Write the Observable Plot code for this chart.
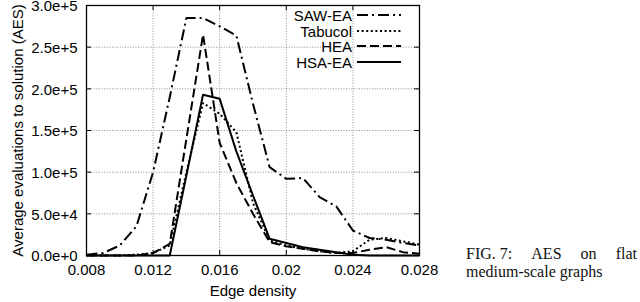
<!DOCTYPE html>
<html><head><meta charset="utf-8">
<script src="https://cdn.jsdelivr.net/npm/d3@7"></script>
<script src="https://cdn.jsdelivr.net/npm/@observablehq/plot@0.6"></script>
<style>
html,body{margin:0;padding:0;background:#fff;}
#wrap{position:relative;width:640px;height:302px;overflow:hidden;background:#fff;}
.leg{position:absolute;font-family:"Liberation Sans",Arial,sans-serif;font-size:15px;color:#000;line-height:15px;}
.legtxt{position:absolute;right:288px;white-space:nowrap;text-align:right;}
.cap{position:absolute;left:466px;width:171px;font-family:"Liberation Serif","Times New Roman",serif;font-size:16px;color:#111;white-space:nowrap;}
.cap1{display:flex;justify-content:space-between;}
</style></head><body><div id="wrap"></div>
<script>
const densities = [0.008,0.009,0.010,0.011,0.012,0.013,0.014,0.015,0.016,0.017,0.018,0.019,0.020,0.021,0.022,0.023,0.024,0.025,0.026,0.027,0.028];
const sawEA   = [1000,3000,12000,35000,100000,190000,285000,285000,275000,264000,182000,106000,92000,93000,70000,59000,30000,21000,19000,15000,12000];
const tabucol = [0,0,0,1000,3000,12000,100000,183000,170000,148000,63000,18000,12000,8000,5000,3000,5000,19000,21000,17000,13000];
const hea     = [0,0,0,0,3000,14000,140000,265000,135000,87000,50000,16000,11000,8000,5000,3000,3000,7000,10000,4000,2000];
const hsaEA   = [0,0,0,0,0,0,96000,193000,188000,125000,72000,20000,15000,10000,7000,4000,1000,0,0,0,0];

const seriesNames = ["SAW-EA","Tabucol","HEA","HSA-EA"];
const seriesValues = [sawEA, tabucol, hea, hsaEA];
const seriesDash = ["11,4,2,4", "2,2.6", "9,4", null];

const xTicks = [0.008,0.012,0.016,0.020,0.024,0.028];
const xTickLabels = ["0.008","0.012","0.016","0.02","0.024","0.028"];
const yTicks = [0,50000,100000,150000,200000,250000,300000];
const yTickLabels = ["0.0e+0","5.0e+4","1.0e+5","1.5e+5","2.0e+5","2.5e+5","3.0e+5"];
const xLabel = "Edge density";
const yLabel = "Average evaluations to solution (AES)";
const captionLine1 = ["FIG. 7:","AES","on","flat"];
const captionLine2 = "medium-scale graphs";

const W = 640, H = 302, mL = 86, mR = 221, mT = 5, mB = 47;
const plotW = W - mL - mR, plotH = H - mT - mB;

const gridStyle = {stroke:"#777", strokeOpacity:1, strokeWidth:0.8, strokeDasharray:"1,1.6"};

const lineMarks = seriesValues.map((vals, k) =>
  Plot.line(vals, {x:(d,i)=>densities[i], y:d=>d, stroke:"#000", strokeWidth:2,
    strokeDasharray: seriesDash[k] || undefined, strokeLinejoin:"miter", strokeLinecap:"butt"}));

const chart = Plot.plot({
  width: W, height: H,
  marginLeft: mL, marginRight: mR, marginTop: mT, marginBottom: mB,
  style: {fontFamily:"'Liberation Sans', Arial, sans-serif", fontSize:"15px", background:"#fff", color:"#000"},
  x: {domain:[0.008,0.028]},
  y: {domain:[0,300000]},
  marks: [
    Plot.gridX(xTicks, gridStyle),
    Plot.gridY(yTicks, gridStyle),
    Plot.tickY(yTicks, {y:d=>d, stroke:"#000", insetRight: plotW-5}),
    Plot.tickY(yTicks, {y:d=>d, stroke:"#000", insetLeft: plotW-5}),
    Plot.tickX(xTicks, {x:d=>d, stroke:"#000", insetTop: plotH-5}),
    Plot.tickX(xTicks, {x:d=>d, stroke:"#000", insetBottom: plotH-5}),
    ...lineMarks,
    Plot.frame({stroke:"#000", strokeWidth:1.3}),
    Plot.axisX(xTicks, {tickFormat: d => xTickLabels[xTicks.indexOf(d)], tickSize:0, tickPadding:9, label:null, fill:"#000"}),
    Plot.axisY(yTicks, {tickFormat: d => yTickLabels[yTicks.indexOf(d)], tickSize:0, tickPadding:9, dy:1, label:null, fill:"#000"}),
    Plot.text([xLabel], {text:d=>d, frameAnchor:"bottom", dy:40, lineAnchor:"bottom", textAnchor:"middle", fill:"#000"}),
    Plot.text([yLabel], {text:d=>d, frameAnchor:"left", dx:-64, rotate:-90, lineAnchor:"bottom", textAnchor:"middle", fill:"#000"})
  ]
});

const wrap = document.getElementById("wrap");
wrap.appendChild(chart);

// legend
const legBaselines = [20, 35.8, 51.3, 66.8];
seriesNames.forEach((name, k) => {
  const t = document.createElement("div");
  t.className = "leg legtxt";
  t.style.top = (legBaselines[k] - 12) + "px";
  t.textContent = name;
  wrap.appendChild(t);
  const s = document.createElementNS("http://www.w3.org/2000/svg","svg");
  s.setAttribute("width", 46); s.setAttribute("height", 6);
  s.style.position = "absolute"; s.style.left = "356px"; s.style.top = (legBaselines[k] - 8) + "px";
  const l = document.createElementNS("http://www.w3.org/2000/svg","line");
  l.setAttribute("x1", 1); l.setAttribute("x2", 45); l.setAttribute("y1", 3); l.setAttribute("y2", 3);
  l.setAttribute("stroke", "#000"); l.setAttribute("stroke-width", 2);
  if (seriesDash[k]) l.setAttribute("stroke-dasharray", seriesDash[k]);
  s.appendChild(l);
  wrap.appendChild(s);
});

// caption
const c1 = document.createElement("div");
c1.className = "cap cap1"; c1.style.top = "245px";
captionLine1.forEach(w => { const sp = document.createElement("span"); sp.textContent = w; c1.appendChild(sp); });
wrap.appendChild(c1);
const c2 = document.createElement("div");
c2.className = "cap"; c2.style.top = "263px"; c2.textContent = captionLine2;
wrap.appendChild(c2);
</script></body></html>
